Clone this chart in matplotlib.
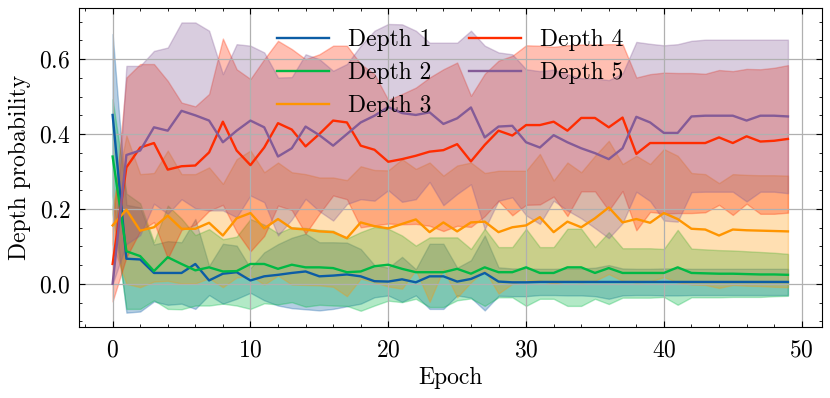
import numpy as np
import matplotlib
matplotlib.use("Agg")
import matplotlib.pyplot as plt

# datos (media y desviacion por epoca)
epochs = np.arange(50)

d1_mean = [0.451, 0.067, 0.065, 0.029, 0.029, 0.029, 0.053, 0.009, 0.027, 0.031, 0.009,
           0.020, 0.024, 0.029, 0.033, 0.020, 0.022, 0.025, 0.020, 0.007, 0.006,
           0.012, 0.004, 0.020, 0.020, 0.006, 0.013, 0.029, 0.006, 0.004, 0.004,
           0.005, 0.005, 0.005, 0.005, 0.005, 0.005, 0.005, 0.005, 0.005, 0.005,
           0.005, 0.005, 0.005, 0.005, 0.005, 0.005, 0.005, 0.005, 0.005]
d1_std = [0.216, 0.144, 0.139, 0.076, 0.085, 0.082, 0.120, 0.039, 0.080, 0.071, 0.033,
          0.064, 0.082, 0.094, 0.101, 0.091, 0.089, 0.085, 0.073, 0.043, 0.037,
          0.060, 0.035, 0.087, 0.087, 0.037, 0.050, 0.100, 0.038, 0.037, 0.037,
          0.035, 0.035, 0.036, 0.036, 0.038, 0.045, 0.036, 0.035, 0.035, 0.036,
          0.036, 0.035, 0.035, 0.035, 0.035, 0.035, 0.035, 0.035, 0.035]

d2_mean = [0.340, 0.087, 0.074, 0.034, 0.071, 0.053, 0.036, 0.044, 0.033, 0.034, 0.053,
           0.053, 0.040, 0.051, 0.044, 0.044, 0.042, 0.031, 0.033, 0.047, 0.051,
           0.040, 0.031, 0.031, 0.031, 0.040, 0.027, 0.044, 0.031, 0.031, 0.044,
           0.029, 0.029, 0.044, 0.044, 0.029, 0.042, 0.029, 0.029, 0.029, 0.029,
           0.044, 0.029, 0.028, 0.027, 0.027, 0.026, 0.025, 0.025, 0.024]
d2_std = [0.153, 0.154, 0.141, 0.078, 0.138, 0.121, 0.094, 0.102, 0.086, 0.092, 0.120,
          0.105, 0.095, 0.100, 0.105, 0.100, 0.100, 0.090, 0.105, 0.105, 0.096,
          0.089, 0.071, 0.093, 0.093, 0.084, 0.066, 0.103, 0.067, 0.067, 0.103,
          0.069, 0.069, 0.103, 0.103, 0.069, 0.096, 0.066, 0.066, 0.066, 0.064,
          0.100, 0.065, 0.064, 0.063, 0.062, 0.061, 0.060, 0.058, 0.056]

d3_mean = [0.156, 0.198, 0.142, 0.151, 0.182, 0.147, 0.147, 0.163, 0.129, 0.175, 0.189,
           0.148, 0.173, 0.148, 0.145, 0.140, 0.138, 0.122, 0.164, 0.154, 0.148,
           0.160, 0.172, 0.138, 0.164, 0.140, 0.164, 0.166, 0.138, 0.151, 0.156,
           0.178, 0.138, 0.166, 0.151, 0.175, 0.204, 0.164, 0.173, 0.163, 0.189,
           0.173, 0.147, 0.145, 0.129, 0.145, 0.143, 0.142, 0.141, 0.140]
d3_std = [0.050, 0.198, 0.151, 0.145, 0.174, 0.146, 0.146, 0.148, 0.138, 0.158, 0.167,
          0.150, 0.151, 0.150, 0.148, 0.144, 0.146, 0.155, 0.150, 0.150, 0.155,
          0.173, 0.135, 0.186, 0.125, 0.176, 0.160, 0.130, 0.164, 0.151, 0.146,
          0.169, 0.138, 0.158, 0.147, 0.167, 0.178, 0.156, 0.169, 0.157, 0.171,
          0.169, 0.149, 0.148, 0.140, 0.148, 0.148, 0.148, 0.149, 0.149]

d4_mean = [0.053, 0.311, 0.364, 0.376, 0.305, 0.314, 0.316, 0.351, 0.433, 0.356, 0.317,
           0.364, 0.429, 0.412, 0.367, 0.400, 0.436, 0.431, 0.369, 0.358, 0.326,
           0.333, 0.342, 0.353, 0.357, 0.373, 0.327, 0.371, 0.409, 0.396, 0.424,
           0.424, 0.433, 0.409, 0.443, 0.443, 0.418, 0.444, 0.347, 0.376, 0.376,
           0.376, 0.376, 0.376, 0.391, 0.376, 0.394, 0.380, 0.382, 0.387]
d4_std = [0.100, 0.240, 0.223, 0.211, 0.237, 0.170, 0.158, 0.156, 0.222, 0.217, 0.230,
          0.236, 0.220, 0.215, 0.233, 0.213, 0.200, 0.205, 0.218, 0.202, 0.165,
          0.174, 0.182, 0.198, 0.216, 0.218, 0.175, 0.190, 0.187, 0.213, 0.213,
          0.212, 0.200, 0.228, 0.196, 0.196, 0.222, 0.196, 0.204, 0.184, 0.188,
          0.187, 0.187, 0.185, 0.180, 0.192, 0.180, 0.193, 0.195, 0.197]

d5_mean = [0.000, 0.344, 0.356, 0.418, 0.409, 0.462, 0.450, 0.436, 0.378, 0.409, 0.436,
           0.418, 0.340, 0.362, 0.420, 0.397, 0.369, 0.400, 0.431, 0.449, 0.472,
           0.456, 0.451, 0.458, 0.427, 0.442, 0.471, 0.391, 0.420, 0.422, 0.378,
           0.364, 0.397, 0.378, 0.362, 0.349, 0.333, 0.362, 0.446, 0.431, 0.403,
           0.403, 0.447, 0.449, 0.449, 0.449, 0.436, 0.449, 0.449, 0.447]
d5_std = [0.000, 0.238, 0.226, 0.204, 0.222, 0.236, 0.248, 0.240, 0.182, 0.231, 0.200,
          0.200, 0.211, 0.190, 0.193, 0.203, 0.200, 0.187, 0.205, 0.227, 0.222,
          0.237, 0.225, 0.186, 0.217, 0.202, 0.205, 0.245, 0.198, 0.191, 0.195,
          0.204, 0.175, 0.182, 0.187, 0.200, 0.211, 0.200, 0.200, 0.210, 0.234,
          0.237, 0.202, 0.203, 0.203, 0.203, 0.216, 0.203, 0.203, 0.205]

etiquetas = ["Depth 1", "Depth 2", "Depth 3", "Depth 4", "Depth 5"]
colores = ["#0C5DA5", "#00B945", "#FF9500", "#FF2C00", "#845B97"]

plt.rcParams.update({
    "font.family": "serif",
    "font.serif": ["cmr10"],
    "mathtext.fontset": "cm",
    "axes.formatter.use_mathtext": True,
    "font.size": 17,
    "axes.linewidth": 0.8,
    "xtick.direction": "in",
    "ytick.direction": "in",
    "xtick.top": True,
    "ytick.right": True,
    "xtick.minor.visible": True,
    "ytick.minor.visible": True,
    "xtick.major.size": 4,
    "ytick.major.size": 4,
    "xtick.minor.size": 2,
    "ytick.minor.size": 2,
    "xtick.major.width": 0.8,
    "ytick.major.width": 0.8,
    "xtick.minor.width": 0.6,
    "ytick.minor.width": 0.6,
    "xtick.major.pad": 9,
    "ytick.major.pad": 6,
})

fig, ax = plt.subplots(figsize=(8.3, 3.98), dpi=100)
fig.subplots_adjust(left=0.095, right=0.99, top=0.98, bottom=0.178)

medias = [d1_mean, d2_mean, d3_mean, d4_mean, d5_mean]
desvs = [d1_std, d2_std, d3_std, d4_std, d5_std]

for m, s, c, lab in zip(medias, desvs, colores, etiquetas):
    m = np.array(m)
    s = np.array(s)
    ax.plot(epochs, m, color=c, lw=1.7, label=lab)
    ax.fill_between(epochs, m - s, m + s, color=c, alpha=0.3)

ax.set_xlabel("Epoch", labelpad=4)
ax.set_ylabel("Depth probability", labelpad=6)
ax.xaxis.set_minor_locator(matplotlib.ticker.MultipleLocator(2))
ax.yaxis.set_minor_locator(matplotlib.ticker.MultipleLocator(0.05))
ax.grid(True, which="major", color="#b0b0b0", lw=0.9)
ax.legend(loc="upper center", ncol=2, frameon=False, handlelength=2.2,
          columnspacing=1.6, borderaxespad=0.5, labelspacing=0.45)

plt.savefig("out.png", dpi=100)
